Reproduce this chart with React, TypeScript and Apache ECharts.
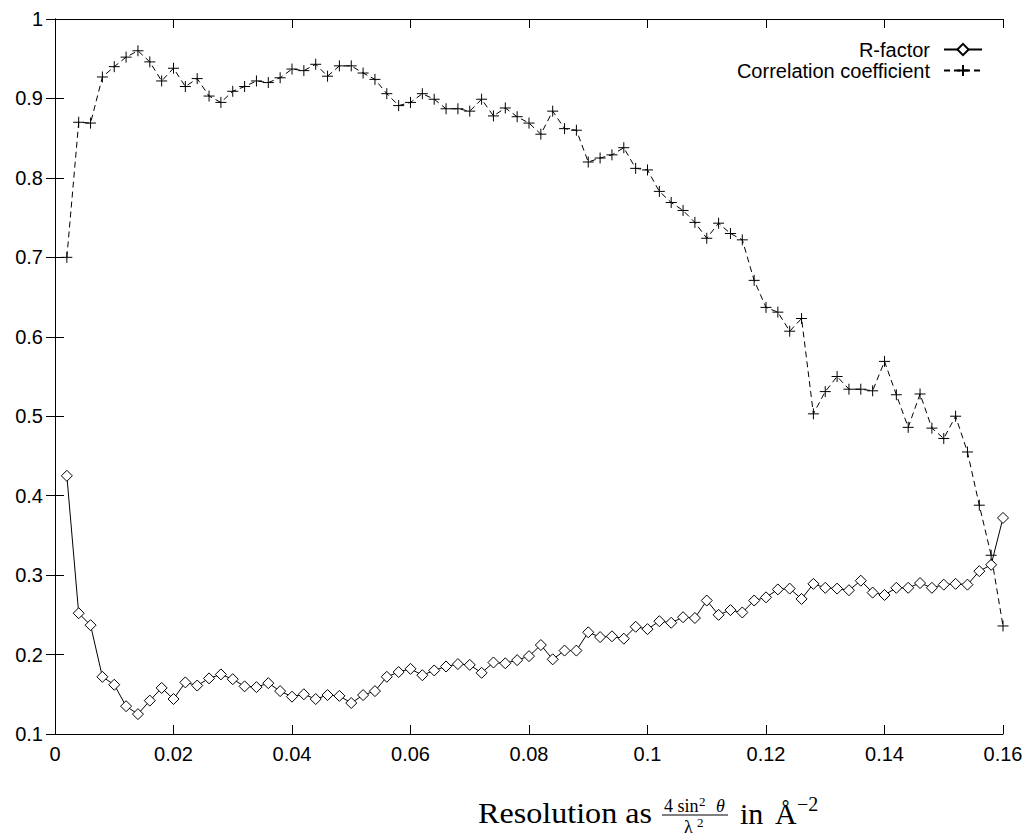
import React, { useEffect, useRef } from 'react';
import * as echarts from 'echarts';

const resolution = [
  0.002, 0.004, 0.006, 0.008, 0.01, 0.012, 0.014, 0.016, 0.018, 0.02,
  0.022, 0.024, 0.026, 0.028, 0.03, 0.032, 0.034, 0.036, 0.038, 0.04,
  0.042, 0.044, 0.046, 0.048, 0.05, 0.052, 0.054, 0.056, 0.058, 0.06,
  0.062, 0.064, 0.066, 0.068, 0.07, 0.072, 0.074, 0.076, 0.078, 0.08,
  0.082, 0.084, 0.086, 0.088, 0.09, 0.092, 0.094, 0.096, 0.098, 0.1,
  0.102, 0.104, 0.106, 0.108, 0.11, 0.112, 0.114, 0.116, 0.118, 0.12,
  0.122, 0.124, 0.126, 0.128, 0.13, 0.132, 0.134, 0.136, 0.138, 0.14,
  0.142, 0.144, 0.146, 0.148, 0.15, 0.152, 0.154, 0.156, 0.158, 0.16,
];

const rFactor = [
  0.425, 0.252, 0.237, 0.172, 0.162, 0.135, 0.125, 0.142, 0.158, 0.144,
  0.165, 0.161, 0.170, 0.175, 0.169, 0.160, 0.159, 0.164, 0.154, 0.147,
  0.150, 0.144, 0.149, 0.148, 0.139, 0.149, 0.154, 0.172, 0.178, 0.182,
  0.174, 0.180, 0.185, 0.188, 0.187, 0.177, 0.190, 0.189, 0.193, 0.198,
  0.212, 0.194, 0.205, 0.205, 0.228, 0.222, 0.223, 0.220, 0.235, 0.232,
  0.242, 0.240, 0.247, 0.246, 0.268, 0.250, 0.256, 0.253, 0.268, 0.272,
  0.282, 0.283, 0.270, 0.289, 0.284, 0.283, 0.281, 0.293, 0.278, 0.275,
  0.284, 0.284, 0.290, 0.284, 0.288, 0.289, 0.288, 0.305, 0.313, 0.372,
];

const correlation = [
  0.700, 0.870, 0.869, 0.927, 0.940, 0.952, 0.960, 0.946, 0.922, 0.938,
  0.915, 0.925, 0.903, 0.895, 0.909, 0.915, 0.922, 0.920, 0.926, 0.937,
  0.935, 0.943, 0.928, 0.941, 0.941, 0.932, 0.924, 0.906, 0.891, 0.895,
  0.906, 0.899, 0.887, 0.887, 0.884, 0.899, 0.878, 0.888, 0.877, 0.869,
  0.855, 0.884, 0.862, 0.860, 0.820, 0.825, 0.829, 0.838, 0.812, 0.810,
  0.783, 0.769, 0.759, 0.744, 0.724, 0.743, 0.730, 0.722, 0.671, 0.637,
  0.631, 0.607, 0.623, 0.503, 0.531, 0.550, 0.534, 0.534, 0.532, 0.569,
  0.527, 0.486, 0.528, 0.485, 0.472, 0.500, 0.455, 0.388, 0.325, 0.236,
];

const seriesNames = ['R-factor', 'Correlation coefficient'];

const SANS = '"Liberation Sans", Arial, Helvetica, sans-serif';
const SERIF = '"Liberation Serif", "Times New Roman", serif';

function fmt(v: number) {
  return String(parseFloat(v.toFixed(3)));
}

// horizontal stretch so a serif text spans the target width (Computer Modern is wider than Times)
function stretch(text: string, size: number, target: number) {
  try {
    const ctx = document.createElement('canvas').getContext('2d');
    if (!ctx) return 1;
    ctx.font = `${size}px ${SERIF}`;
    const w = ctx.measureText(text).width;
    if (!w) return 1;
    return Math.min(1.35, Math.max(0.8, target / w));
  } catch (e) {
    return 1;
  }
}

export default function App() {
  const ref = useRef<HTMLDivElement>(null);
  useEffect(() => {
    const chart = echarts.init(ref.current!, null, { renderer: 'svg' });
    const axisCommon = {
      type: 'value',
      axisLine: { show: true, lineStyle: { color: '#000', width: 1 } },
      axisTick: { show: true, inside: true, length: 9, lineStyle: { color: '#000', width: 1 } },
      splitLine: { show: false },
    };
    const label = { color: '#000', fontFamily: SANS, fontSize: 20, formatter: fmt };
    const textBase = { fill: '#000', fontFamily: SERIF };
    const titleScale = stretch('Resolution as', 30, 174);
    chart.setOption({
      animation: false,
      backgroundColor: '#fff',
      grid: { left: 55, right: 25, top: 19, bottom: 102, containLabel: false },
      xAxis: [
        { ...axisCommon, min: 0, max: 0.16, interval: 0.02, position: 'bottom', axisLabel: { ...label, margin: 10 } },
        { ...axisCommon, min: 0, max: 0.16, interval: 0.02, position: 'top', axisLabel: { show: false } },
      ],
      yAxis: [
        { ...axisCommon, min: 0.1, max: 1, interval: 0.1, position: 'left', axisLabel: { ...label, margin: 12 } },
        { ...axisCommon, min: 0.1, max: 1, interval: 0.1, position: 'right', axisLabel: { show: false } },
      ],
      legend: {
        orient: 'vertical',
        align: 'right',
        right: 40,
        top: 34,
        itemWidth: 38,
        itemHeight: 14,
        itemGap: 0,
        textStyle: { color: '#000', fontFamily: SANS, fontSize: 20, lineHeight: 21, padding: [0, 9, 0, 0] },
        data: seriesNames,
      },
      series: [
        {
          name: seriesNames[0],
          type: 'line',
          data: resolution.map((x, i) => [x, rFactor[i]]),
          symbol: 'diamond',
          symbolSize: 11,
          showAllSymbol: true,
          lineStyle: { color: '#000', width: 1, type: 'solid' },
          itemStyle: { color: '#fff', borderColor: '#000', borderWidth: 1 },
          emphasis: { disabled: true },
        },
        {
          name: seriesNames[1],
          type: 'line',
          data: resolution.map((x, i) => [x, correlation[i]]),
          symbol: 'path://M0,5L10,5M5,0L5,10',
          symbolSize: 11,
          showAllSymbol: true,
          lineStyle: { color: '#000', width: 1, type: [6, 4] },
          itemStyle: { color: 'none', borderColor: '#000', borderWidth: 1 },
          emphasis: { disabled: true },
        },
      ],
      graphic: [
        { type: 'text', x: 478, y: 813, scaleX: titleScale, style: { ...textBase, text: 'Resolution as', fontSize: 30, lineHeight: 28, verticalAlign: 'middle' } },
        { type: 'text', x: 664, y: 806, style: { ...textBase, text: '4 sin', fontSize: 18, lineHeight: 14, verticalAlign: 'middle' } },
        { type: 'text', x: 699, y: 801.5, style: { ...textBase, text: '2', fontSize: 13, lineHeight: 10, verticalAlign: 'middle' } },
        { type: 'text', x: 716, y: 806, style: { ...textBase, text: 'θ', fontSize: 18, lineHeight: 14, fontStyle: 'italic', verticalAlign: 'middle' } },
        { type: 'line', shape: { x1: 662, y1: 815, x2: 728, y2: 815 }, style: { stroke: '#000', lineWidth: 1 } },
        { type: 'text', x: 684, y: 826.5, style: { ...textBase, text: 'λ', fontSize: 18, lineHeight: 16, verticalAlign: 'middle' } },
        { type: 'text', x: 697, y: 822.5, style: { ...textBase, text: '2', fontSize: 13, lineHeight: 10, verticalAlign: 'middle' } },
        { type: 'text', x: 740, y: 813, style: { ...textBase, text: 'in', fontSize: 30, lineHeight: 28, verticalAlign: 'middle' } },
        { type: 'text', x: 775, y: 813, style: { ...textBase, text: 'Å', fontSize: 30, lineHeight: 28, verticalAlign: 'middle' } },
        { type: 'text', x: 797, y: 803.5, style: { ...textBase, text: '−2', fontSize: 20, lineHeight: 16, verticalAlign: 'middle' } },
      ],
    });
    return () => chart.dispose();
  }, []);
  return (
    <div
      ref={ref}
      style={{ position: 'absolute', left: 0, top: 0, width: 1028, height: 836, background: '#fff' }}
    />
  );
}
